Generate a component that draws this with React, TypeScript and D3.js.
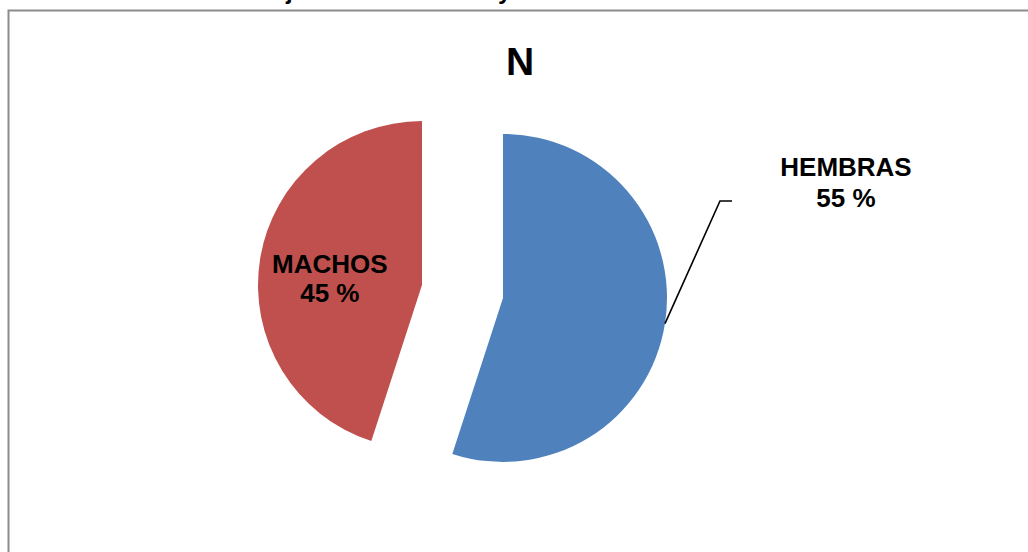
import React from "react";
import * as d3 from "d3";

// Sex distribution of the sample
const categories = ["HEMBRAS", "MACHOS"];
const percentages = [55, 45];
const sliceColors = ["#4F81BD", "#C0504D"];
const chartTitle = "N";

const W = 1028;
const H = 552;
const cx = 462.5;
const cy = 291.5;
const radius = 164;
const explode = 41;
const font = "Arial, 'Liberation Sans', Helvetica, sans-serif";

export default function App() {
  const pie = d3
    .pie<number>()
    .sort(null)
    .value((d) => d)
    .startAngle(0)
    .endAngle(2 * Math.PI);
  const arcs = pie(percentages);
  const arc = d3.arc<d3.PieArcDatum<number>>().innerRadius(0).outerRadius(radius);

  const offsetOf = (a: d3.PieArcDatum<number>) => {
    const mid = (a.startAngle + a.endAngle) / 2;
    return [explode * Math.sin(mid), -explode * Math.cos(mid)];
  };

  // leader for the outside label (first slice)
  const a0 = arcs[0];
  const [ox0, oy0] = offsetOf(a0);
  const mid0 = (a0.startAngle + a0.endAngle) / 2;
  const lx0 = cx + ox0 + radius * Math.sin(mid0);
  const ly0 = cy + oy0 - radius * Math.cos(mid0);
  const elbow = [720, 201];
  const leaderEnd = [732, 201];

  // inside label for the second slice
  const a1 = arcs[1];
  const [ox1, oy1] = offsetOf(a1);
  const mid1 = (a1.startAngle + a1.endAngle) / 2;
  const inR = radius * 0.6;
  const ix = cx + ox1 + inR * Math.sin(mid1);
  const iy = cy + oy1 - inR * Math.cos(mid1);

  return (
    <svg
      width={W}
      height={H}
      style={{ position: "absolute", left: 0, top: 0, background: "#fff" }}
    >
      {/* descenders of the caption line above the chart */}
      <text x={286} y={-1} fontFamily={font} fontSize={24} fontWeight="bold" fill="#000">j</text>
      <text x={498} y={-1} fontFamily={font} fontSize={24} fontWeight="bold" fill="#000">y</text>

      {/* chart area border */}
      <rect x={8.5} y={10.5} width={W + 20} height={H + 20} fill="#fff" stroke="#8c8c8c" strokeWidth={2} />

      <text
        x={520}
        y={75}
        textAnchor="middle"
        fontFamily={font}
        fontSize={39}
        fontWeight="bold"
        fill="#000"
      >
        {chartTitle}
      </text>

      {arcs.map((a, i) => {
        const [ox, oy] = offsetOf(a);
        return (
          <path
            key={categories[i]}
            d={arc(a) || ""}
            transform={`translate(${cx + ox},${cy + oy})`}
            fill={sliceColors[i]}
          />
        );
      })}

      <polyline
        points={`${lx0},${ly0} ${elbow[0]},${elbow[1]} ${leaderEnd[0]},${leaderEnd[1]}`}
        fill="none"
        stroke="#000"
        strokeWidth={1.6}
      />

      <text textAnchor="middle" fontFamily={font} fontSize={26} fontWeight="bold" fill="#000">
        <tspan x={846} y={176}>{categories[0]}</tspan>
        <tspan x={846} y={207}>{`${percentages[0]} %`}</tspan>
      </text>

      <text textAnchor="middle" fontFamily={font} fontSize={26} fontWeight="bold" fill="#000">
        <tspan x={ix + 5} y={iy + 3}>{categories[1]}</tspan>
        <tspan x={ix + 5} y={iy + 32}>{`${percentages[1]} %`}</tspan>
      </text>
    </svg>
  );
}
